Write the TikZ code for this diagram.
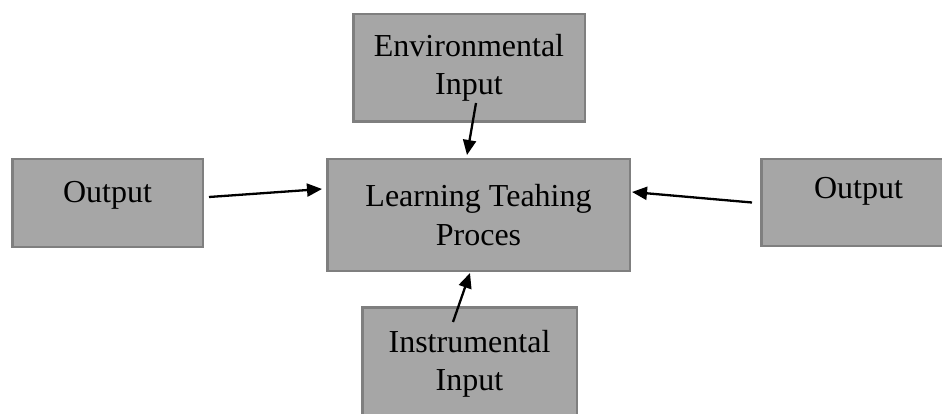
\documentclass[tikz,border=0pt]{standalone}
\usepackage{fontspec}
\setmainfont{Liberation Serif}
\usetikzlibrary{arrows.meta}
\definecolor{boxfill}{HTML}{A6A6A6}
\definecolor{boxline}{HTML}{7F7F7F}
\tikzset{
  box/.style={draw=boxline, fill=boxfill, line width=2.5pt, inner sep=0pt,
    align=center, font=\fontsize{32}{38.5}\selectfont},
  conn/.style={line width=2.3pt, -{Triangle[length=15pt,width=13pt]}}
}
\begin{document}
\begin{tikzpicture}[x=1pt,y=-1pt]
\useasboundingbox (0,0) rectangle (942,414);
\node[box, minimum width=231.5pt, minimum height=107.5pt] (env) at (469,68) {Environmental\\Input};
\node[box, minimum width=302.5pt, minimum height=111.5pt] (lp) at (478.5,215) {Learning Teahing\\Proces};
\node[box, minimum width=190.5pt, minimum height=87.5pt, text depth=21.4pt] (lout) at (107.5,203) {Output};
\node[box, minimum width=194.5pt, minimum height=86.5pt, text depth=28.4pt] (rout) at (858.5,202.5) {Output};
\node[box, minimum width=214.5pt, minimum height=113.5pt] (inst) at (469.5,364) {Instrumental\\Input};
\draw[conn] ([xshift=5pt,yshift=6pt]lout.east) -- ([xshift=-4pt,yshift=26pt]lp.west);
\draw[conn] ([xshift=-8pt]rout.west) -- ([xshift=1pt,yshift=23pt]lp.east);
\draw[conn] ([xshift=7pt,yshift=20pt]env.south) -- ([xshift=-11.5pt,yshift=3pt]lp.north);
\draw[conn] ([xshift=-16.5pt,yshift=-16pt]inst.north) -- ([xshift=-8.5pt,yshift=-1pt]lp.south);
\end{tikzpicture}
\end{document}
